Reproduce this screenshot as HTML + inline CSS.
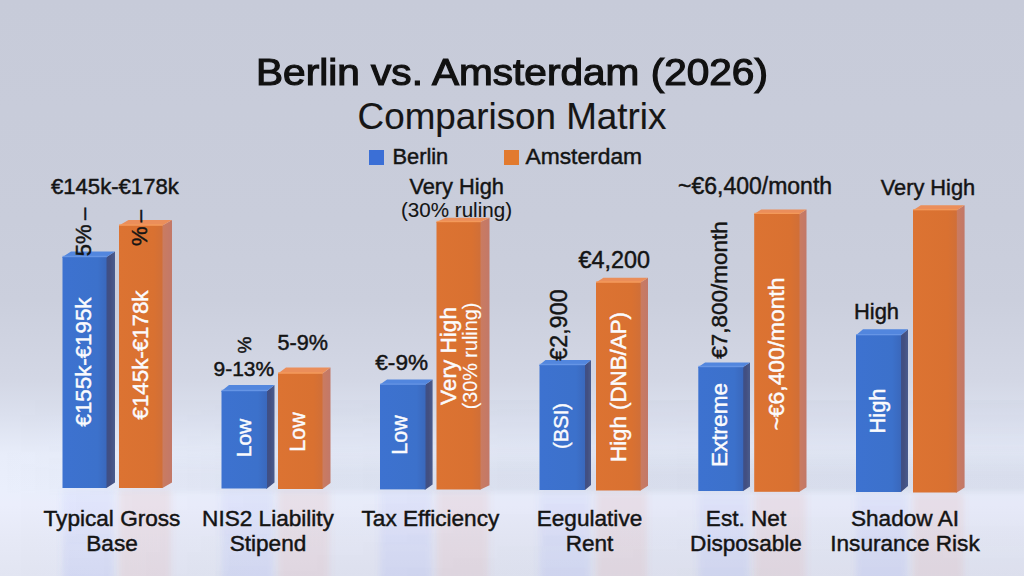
<!DOCTYPE html>
<html><head><meta charset="utf-8"><style>
html,body{margin:0;padding:0;}
body{width:1024px;height:576px;overflow:hidden;position:relative;font-family:"Liberation Sans",sans-serif;
background:linear-gradient(to bottom,#c7cbd9 0px,#c9cddb 220px,#cbcfdd 300px,#d3d7e5 380px,#dbe0ee 415px,#e8edfa 455px,#eaeffc 490px,#ebeefc 505px,#e6e9f6 540px,#e2e5f2 576px);}
.t{position:absolute;white-space:nowrap;line-height:1;-webkit-text-stroke:0.45px currentColor;}
.r{position:absolute;white-space:nowrap;line-height:1;-webkit-text-stroke:0.45px currentColor;transform:translate(-50%,-50%) rotate(-90deg);}
svg{position:absolute;left:0;top:0;}
</style></head><body>
<div style="position:absolute;left:0;top:400px;width:1024px;height:176px;background:linear-gradient(to right,rgba(70,80,110,0) 0px,rgba(70,80,110,0.07) 250px,rgba(70,80,110,0.11) 700px,rgba(70,80,110,0.10) 1024px);-webkit-mask-image:linear-gradient(to bottom,rgba(0,0,0,0.2) 0px,rgba(0,0,0,0.35) 45px,rgba(0,0,0,1) 75px,rgba(0,0,0,1) 88px,rgba(0,0,0,0.25) 96px,rgba(0,0,0,0.35) 176px);"></div>
<svg width="1024" height="576" viewBox="0 0 1024 576"><defs>
<filter id="blur" x="-20%" y="-5%" width="140%" height="110%"><feGaussianBlur stdDeviation="3"/></filter>
<linearGradient id="frontb" x1="0" y1="0" x2="1" y2="0"><stop offset="0" stop-color="#3d72d0"/><stop offset="0.8" stop-color="#3c71cb"/><stop offset="1" stop-color="#3a68bc"/></linearGradient>
<linearGradient id="fronto" x1="0" y1="0" x2="1" y2="0"><stop offset="0" stop-color="#dc7332"/><stop offset="0.8" stop-color="#d97131"/><stop offset="1" stop-color="#d06f38"/></linearGradient>
<linearGradient id="reflb" x1="0" y1="0" x2="0" y2="1"><stop offset="0" stop-color="#6e82fa" stop-opacity="0.07"/><stop offset="1" stop-color="#6e82fa" stop-opacity="0.12"/></linearGradient>
<linearGradient id="reflo" x1="0" y1="0" x2="0" y2="1"><stop offset="0" stop-color="#e6826a" stop-opacity="0.11"/><stop offset="1" stop-color="#e6826a" stop-opacity="0.11"/></linearGradient>
<linearGradient id="sideb" x1="0" y1="0" x2="1" y2="0"><stop offset="0" stop-color="#3d4f88"/><stop offset="0.5" stop-color="#434f80"/><stop offset="1" stop-color="#4a5c8e"/></linearGradient>
<linearGradient id="sideo" x1="0" y1="0" x2="1" y2="0"><stop offset="0" stop-color="#cb7c60"/><stop offset="1" stop-color="#c27868"/></linearGradient>
</defs><rect x="62.5" y="489.0" width="51.5" height="102.0" fill="url(#reflb)" filter="url(#blur)"/><polygon points="105.5,257.0 106.5,257.0 115.0,251.6 115.0,482.6 106.5,488.0 105.5,488.0" fill="url(#sideb)"/><polygon points="62.5,258.0 62.5,257.0 71.0,251.6 115.0,251.6 106.5,257.0 106.5,258.0" fill="#5286de"/><rect x="62.5" y="257.0" width="44.0" height="231.0" fill="url(#frontb)"/><line x1="62.5" y1="256.5" x2="106.5" y2="256.5" stroke="#6b98e6" stroke-width="1.3" stroke-opacity="0.8"/><rect x="119.0" y="489.0" width="52.0" height="102.0" fill="url(#reflo)" filter="url(#blur)"/><polygon points="161.5,225.5 162.5,225.5 172.0,220.0 172.0,482.5 162.5,488.0 161.5,488.0" fill="url(#sideo)"/><polygon points="119.0,226.5 119.0,225.5 128.5,220.0 172.0,220.0 162.5,225.5 162.5,226.5" fill="#eb8e5a"/><rect x="119.0" y="225.5" width="43.5" height="262.5" fill="url(#fronto)"/><line x1="119.0" y1="225.0" x2="162.5" y2="225.0" stroke="#f59c5a" stroke-width="1.3" stroke-opacity="0.8"/><rect x="221.5" y="489.5" width="52.0" height="101.5" fill="url(#reflb)" filter="url(#blur)"/><polygon points="266.0,391.0 267.0,391.0 274.5,385.0 274.5,482.5 267.0,488.5 266.0,488.5" fill="url(#sideb)"/><polygon points="221.5,392.0 221.5,391.0 229.0,385.0 274.5,385.0 267.0,391.0 267.0,392.0" fill="#5286de"/><rect x="221.5" y="391.0" width="45.5" height="97.5" fill="url(#frontb)"/><line x1="221.5" y1="390.5" x2="267.0" y2="390.5" stroke="#6b98e6" stroke-width="1.3" stroke-opacity="0.8"/><rect x="278.0" y="490.0" width="51.5" height="101.0" fill="url(#reflo)" filter="url(#blur)"/><polygon points="321.5,373.5 322.5,373.5 330.5,367.5 330.5,483.0 322.5,489.0 321.5,489.0" fill="url(#sideo)"/><polygon points="278.0,374.5 278.0,373.5 286.0,367.5 330.5,367.5 322.5,373.5 322.5,374.5" fill="#eb8e5a"/><rect x="278.0" y="373.5" width="44.5" height="115.5" fill="url(#fronto)"/><line x1="278.0" y1="373.0" x2="322.5" y2="373.0" stroke="#f59c5a" stroke-width="1.3" stroke-opacity="0.8"/><rect x="380.0" y="490.4" width="51.6" height="100.6" fill="url(#reflb)" filter="url(#blur)"/><polygon points="424.5,384.6 425.5,384.6 432.6,379.6 432.6,484.4 425.5,489.4 424.5,489.4" fill="url(#sideb)"/><polygon points="380.0,385.6 380.0,384.6 387.1,379.6 432.6,379.6 425.5,384.6 425.5,385.6" fill="#5286de"/><rect x="380.0" y="384.6" width="45.5" height="104.8" fill="url(#frontb)"/><line x1="380.0" y1="384.1" x2="425.5" y2="384.1" stroke="#6b98e6" stroke-width="1.3" stroke-opacity="0.8"/><rect x="436.5" y="490.5" width="52.0" height="100.5" fill="url(#reflo)" filter="url(#blur)"/><polygon points="479.5,222.0 480.5,222.0 489.5,217.8 489.5,485.3 480.5,489.5 479.5,489.5" fill="url(#sideo)"/><polygon points="436.5,223.0 436.5,222.0 445.5,217.8 489.5,217.8 480.5,222.0 480.5,223.0" fill="#eb8e5a"/><rect x="436.5" y="222.0" width="44.0" height="267.5" fill="url(#fronto)"/><line x1="436.5" y1="221.5" x2="480.5" y2="221.5" stroke="#f59c5a" stroke-width="1.3" stroke-opacity="0.8"/><rect x="539.5" y="491.0" width="50.5" height="100.0" fill="url(#reflb)" filter="url(#blur)"/><polygon points="584.0,365.0 585.0,365.0 591.0,360.0 591.0,485.0 585.0,490.0 584.0,490.0" fill="url(#sideb)"/><polygon points="539.5,366.0 539.5,365.0 545.5,360.0 591.0,360.0 585.0,365.0 585.0,366.0" fill="#5286de"/><rect x="539.5" y="365.0" width="45.5" height="125.0" fill="url(#frontb)"/><line x1="539.5" y1="364.5" x2="585.0" y2="364.5" stroke="#6b98e6" stroke-width="1.3" stroke-opacity="0.8"/><rect x="596.0" y="491.5" width="51.0" height="99.5" fill="url(#reflo)" filter="url(#blur)"/><polygon points="639.6,282.5 640.6,282.5 648.0,277.7 648.0,485.7 640.6,490.5 639.6,490.5" fill="url(#sideo)"/><polygon points="596.0,283.5 596.0,282.5 603.4,277.7 648.0,277.7 640.6,282.5 640.6,283.5" fill="#eb8e5a"/><rect x="596.0" y="282.5" width="44.6" height="208.0" fill="url(#fronto)"/><line x1="596.0" y1="282.0" x2="640.6" y2="282.0" stroke="#f59c5a" stroke-width="1.3" stroke-opacity="0.8"/><rect x="698.3" y="492.0" width="50.7" height="99.0" fill="url(#reflb)" filter="url(#blur)"/><polygon points="742.2,367.0 743.2,367.0 750.0,362.5 750.0,486.5 743.2,491.0 742.2,491.0" fill="url(#sideb)"/><polygon points="698.3,368.0 698.3,367.0 705.1,362.5 750.0,362.5 743.2,367.0 743.2,368.0" fill="#5286de"/><rect x="698.3" y="367.0" width="44.9" height="124.0" fill="url(#frontb)"/><line x1="698.3" y1="366.5" x2="743.2" y2="366.5" stroke="#6b98e6" stroke-width="1.3" stroke-opacity="0.8"/><rect x="754.2" y="492.8" width="51.3" height="98.2" fill="url(#reflo)" filter="url(#blur)"/><polygon points="798.5,213.9 799.5,213.9 806.5,209.4 806.5,487.3 799.5,491.8 798.5,491.8" fill="url(#sideo)"/><polygon points="754.2,214.9 754.2,213.9 761.2,209.4 806.5,209.4 799.5,213.9 799.5,214.9" fill="#eb8e5a"/><rect x="754.2" y="213.9" width="45.3" height="277.9" fill="url(#fronto)"/><line x1="754.2" y1="213.4" x2="799.5" y2="213.4" stroke="#f59c5a" stroke-width="1.3" stroke-opacity="0.8"/><rect x="856.0" y="493.0" width="51.0" height="98.0" fill="url(#reflb)" filter="url(#blur)"/><polygon points="900.0,335.2 901.0,335.2 908.0,329.2 908.0,486.0 901.0,492.0 900.0,492.0" fill="url(#sideb)"/><polygon points="856.0,336.2 856.0,335.2 863.0,329.2 908.0,329.2 901.0,335.2 901.0,336.2" fill="#5286de"/><rect x="856.0" y="335.2" width="45.0" height="156.8" fill="url(#frontb)"/><line x1="856.0" y1="334.7" x2="901.0" y2="334.7" stroke="#6b98e6" stroke-width="1.3" stroke-opacity="0.8"/><rect x="913.0" y="493.5" width="50.6" height="97.5" fill="url(#reflo)" filter="url(#blur)"/><polygon points="955.8,210.2 956.8,210.2 964.6,205.2 964.6,487.5 956.8,492.5 955.8,492.5" fill="url(#sideo)"/><polygon points="913.0,211.2 913.0,210.2 920.8,205.2 964.6,205.2 956.8,210.2 956.8,211.2" fill="#eb8e5a"/><rect x="913.0" y="210.2" width="43.8" height="282.3" fill="url(#fronto)"/><line x1="913.0" y1="209.7" x2="956.8" y2="209.7" stroke="#f59c5a" stroke-width="1.3" stroke-opacity="0.8"/></svg>
<div class="t" style="left:212.0px;width:600px;text-align:center;top:51.1px;font-size:40.6px;font-weight:normal;color:#111;-webkit-text-stroke:1.3px #111;transform:scaleY(0.9);transform-origin:50% 85%;">Berlin vs. Amsterdam (2026)</div>
<div class="t" style="left:212.0px;width:600px;text-align:center;top:98.8px;font-size:36.8px;font-weight:normal;color:#161616;-webkit-text-stroke:0.15px #161616;">Comparison Matrix</div>
<div style="position:absolute;left:369px;top:150px;width:15px;height:15px;background:#3b6fd6"></div>
<div class="t" style="left:392.5px;top:146.2px;font-size:21.8px;font-weight:normal;color:#141414;">Berlin</div>
<div style="position:absolute;left:503.5px;top:150px;width:15px;height:15px;background:#e27a2e"></div>
<div class="t" style="left:525.5px;top:145.4px;font-size:22.8px;font-weight:normal;color:#141414;">Amsterdam</div>
<div class="t" style="left:51.0px;top:176.1px;font-size:22.1px;font-weight:normal;color:#141414;">€145k-€178k</div>
<div class="t" style="left:213.5px;top:358.4px;font-size:21px;font-weight:normal;color:#141414;">9-13%</div>
<div class="t" style="left:277.5px;top:332.0px;font-size:21.6px;font-weight:normal;color:#141414;">5-9%</div>
<div class="t" style="left:409.4px;top:175.9px;font-size:21.8px;font-weight:normal;color:#141414;">Very High</div>
<div class="t" style="left:401.0px;top:200.4px;font-size:20.6px;font-weight:normal;color:#141414;-webkit-text-stroke:0.1px currentColor;">(30% ruling)</div>
<div class="t" style="left:375.3px;top:351.6px;font-size:22.6px;font-weight:normal;color:#141414;">€-9%</div>
<div class="t" style="left:578.4px;top:248.5px;font-size:23.4px;font-weight:normal;color:#141414;">€4,200</div>
<div class="t" style="left:678.0px;top:174.5px;font-size:23px;font-weight:normal;color:#141414;">~€6,400/month</div>
<div class="t" style="left:880.7px;top:176.5px;font-size:21.8px;font-weight:normal;color:#141414;">Very High</div>
<div class="t" style="left:854.0px;top:300.5px;font-size:21.9px;font-weight:normal;color:#141414;">High</div>
<div class="r" style="left:83.6px;top:231.5px;font-size:22px;color:#141414;">5%&thinsp;–</div>
<div class="r" style="left:140.4px;top:228.0px;font-size:22px;color:#141414;">%&thinsp;–</div>
<div class="r" style="left:244.0px;top:345.2px;font-size:19px;color:#141414;">%</div>
<div class="r" style="left:560.2px;top:325.4px;font-size:23.3px;color:#141414;">€2,900</div>
<div class="r" style="left:719.9px;top:289.8px;font-size:22.5px;color:#141414;">€7,800/month</div>
<div class="r" style="left:83.5px;top:361.9px;font-size:22.3px;color:#fbfbfd;">€155k-€195k</div>
<div class="r" style="left:141.3px;top:354.9px;font-size:22.3px;color:#fbfbfd;">€145k-€178k</div>
<div class="r" style="left:242.5px;top:438.2px;font-size:21px;color:#fbfbfd;">Low</div>
<div class="r" style="left:299.0px;top:431.9px;font-size:21.5px;color:#fbfbfd;">Low</div>
<div class="r" style="left:400.8px;top:435.4px;font-size:21.5px;color:#fbfbfd;">Low</div>
<div class="r" style="left:448.5px;top:356.0px;font-size:22.6px;color:#fbfbfd;">Very High</div>
<div class="r" style="left:470.8px;top:356.3px;font-size:19.8px;color:#fbfbfd;-webkit-text-stroke:0.15px currentColor;">(30% ruling)</div>
<div class="r" style="left:560.7px;top:426.0px;font-size:20.2px;color:#fbfbfd;">(BSI)</div>
<div class="r" style="left:619.2px;top:387.4px;font-size:22.3px;color:#fbfbfd;">High (DNB/AP)</div>
<div class="r" style="left:720.2px;top:425.0px;font-size:22.6px;color:#fbfbfd;">Extreme</div>
<div class="r" style="left:775.5px;top:353.8px;font-size:22.8px;color:#fbfbfd;">~€6,400/month</div>
<div class="r" style="left:877.5px;top:411.0px;font-size:21.9px;color:#fbfbfd;">High</div>
<div class="t" style="left:-188.0px;width:600px;text-align:center;top:507.5px;font-size:22.6px;font-weight:normal;color:#141414;">Typical Gross</div>
<div class="t" style="left:-188.0px;width:600px;text-align:center;top:533.1px;font-size:22.6px;font-weight:normal;color:#141414;">Base</div>
<div class="t" style="left:-32.0px;width:600px;text-align:center;top:507.5px;font-size:22.6px;font-weight:normal;color:#141414;">NIS2 Liability</div>
<div class="t" style="left:-32.0px;width:600px;text-align:center;top:533.1px;font-size:22.6px;font-weight:normal;color:#141414;">Stipend</div>
<div class="t" style="left:130.4px;width:600px;text-align:center;top:507.5px;font-size:22.6px;font-weight:normal;color:#141414;">Tax Efficiency</div>
<div class="t" style="left:289.5px;width:600px;text-align:center;top:507.5px;font-size:22.6px;font-weight:normal;color:#141414;">Eegulative</div>
<div class="t" style="left:289.5px;width:600px;text-align:center;top:533.1px;font-size:22.6px;font-weight:normal;color:#141414;">Rent</div>
<div class="t" style="left:446.0px;width:600px;text-align:center;top:507.5px;font-size:22.6px;font-weight:normal;color:#141414;">Est. Net</div>
<div class="t" style="left:446.0px;width:600px;text-align:center;top:533.1px;font-size:22.6px;font-weight:normal;color:#141414;">Disposable</div>
<div class="t" style="left:605.0px;width:600px;text-align:center;top:507.5px;font-size:22.6px;font-weight:normal;color:#141414;">Shadow AI</div>
<div class="t" style="left:605.0px;width:600px;text-align:center;top:533.1px;font-size:22.6px;font-weight:normal;color:#141414;">Insurance Risk</div>
</body></html>
